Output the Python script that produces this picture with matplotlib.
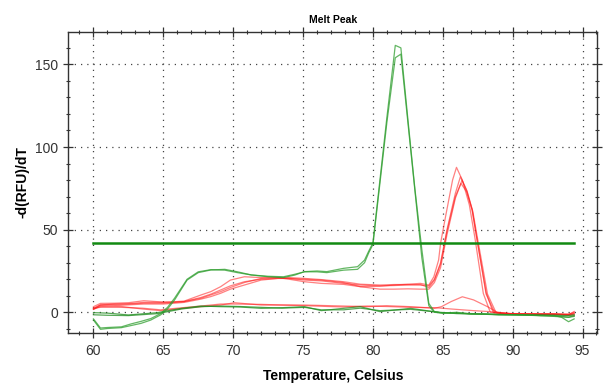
import numpy as np
import matplotlib
matplotlib.use("Agg")
import matplotlib.pyplot as plt
from matplotlib.ticker import MultipleLocator

plt.rcParams['font.family'] = ['Liberation Sans', 'DejaVu Sans']

################################################################################
# Data
################################################################################
# Green, high peak (~81.7 C)
t_green_peak = [60, 60.5, 61, 62, 62.7, 63.4, 64.1, 64.8, 65.3, 65.8, 66.7, 67.5,
                68.4, 69.4, 70.3, 71.3, 72.5, 73.6, 74.4, 75.1, 76, 76.7, 77.9,
                78.9, 79.4, 79.7, 80, 80.5, 81, 81.6, 82, 82.5, 83, 83.5, 84,
                84.4, 85, 86, 87, 88, 89, 90, 91, 92, 93, 93.5, 94, 94.4]
green_peak_1 = [-4.7, -10.3, -9.8, -9.3, -8, -6.7, -4.7, -1.6, 2, 7.4, 19.5, 24,
                25.6, 26, 24.5, 22.6, 21.5, 21, 22.5, 24.6, 25, 24.6, 26.6,
                27.6, 31.6, 37, 42, 80, 118, 161.5, 160, 117, 75, 38, 5.4,
                0.4, -0.5, 0, -1, -1, -1.5, -1.5, -1.5, -2, -2, -3, -5.7, -4]
green_peak_2 = [-4, -9.5, -9.2, -8.8, -7, -5.5, -3.8, -0.8, 3, 8.5, 20, 24.5,
                25.8, 25.5, 24, 22.6, 21.8, 21.5, 23, 24.5, 24.5, 24, 25.5,
                26, 30, 36, 41, 78, 115, 154, 156.2, 115, 74, 33, 4,
                0, -0.5, -0.5, -1, -1.2, -1.5, -1.5, -1.8, -2, -2, -2.5, -3, -2]

# Green, flat
t_green_flat = [60, 61, 62.5, 64.6, 66.3, 67.7, 69.1, 70.5, 72, 73.5, 75.1, 76.3,
                77.9, 79.1, 80.5, 82.7, 84.8, 86, 88, 90, 92, 94, 94.4]
green_flat_1 = [-0.2, -0.5, -1.6, -0.2, 2.4, 3.8, 3.4, 3.2, 2.4, 2.8, 3.4, 1,
                2.4, 3.4, 0.4, 2.4, -0.2, -0.5, -1, -1.5, -1.5, -2, -1.5]
green_flat_2 = [-1.5, -1.8, -2, -0.8, 2, 3.4, 3.8, 3.5, 3, 2.5, 3, 1.5,
                1.5, 2.5, 1, 1.8, 0, -0.8, -1.2, -1.5, -2, -3, -2.5]

# Red, peak at ~86 C: shared baseline part + own peak part
t_red_base = [60, 60.5, 61.5, 62.5, 63.6, 65, 65.8, 66.5, 67.7, 68.4, 69.1, 69.8,
              70.8, 72, 73.2, 74, 75.1, 76.3, 77.9, 79.1, 80.5, 81.5, 82.5, 83.4]
red_base_1 = [3.4, 5.4, 5.5, 5.8, 7, 6.2, 6.4, 6.8, 10.5, 12.5, 15.5, 19.5,
              21.5, 21, 21, 20, 18.5, 17.5, 16.9, 15.5, 15.8, 16.5, 17, 17.5]
red_base_2 = [2, 4.5, 4.8, 5, 5.5, 5.5, 6, 6.5, 9, 11, 13.5, 16,
              18.5, 20, 20.5, 20.5, 19.5, 19, 17.5, 16.5, 16, 16.2, 16.5, 16.8]
red_base_3 = [1.8, 3.5, 4, 4.5, 5, 5, 5.5, 6, 8, 9.5, 11.5, 14,
              16.5, 19.5, 20.5, 20.5, 20, 19.5, 18, 15.5, 14, 14, 14.2, 14]
red_base_4 = [2.5, 4.5, 5, 5.2, 6, 6, 6.2, 6.5, 8.5, 10.5, 12.5, 15,
              18, 20.5, 21, 21, 20.5, 19.8, 18.5, 17, 16.5, 16.8, 16.8, 16.5]

t_red_top_1 = [84.0, 84.36, 84.7, 84.84, 85.2, 85.7, 85.98, 86.4, 86.9, 87.3,
               87.9, 88.4, 89, 90, 91, 92, 93, 94, 94.4]
red_top_1 = [16.5, 21.5, 31.6, 41.7, 58, 80, 87.7, 80, 65, 45,
             11.4, 0, -0.8, -1, -1, -1.2, -1, -1.5, 0.5]
t_red_top_2 = [84.0, 84.4, 84.84, 85.07, 85.3, 85.9, 86.26, 86.7, 87.1, 87.45,
               88.1, 88.7, 89.2, 90, 91, 92, 93, 94, 94.4]
red_top_2 = [15, 19.5, 30, 40, 50, 72, 82, 74, 62, 44,
             11, 0, -0.5, -1, -1.2, -1, -1.2, -1.8, -1]
t_red_top_3 = [84.0, 84.4, 84.84, 85.07, 85.3, 85.9, 86.38, 86.75, 87.15, 87.5,
               88.2, 88.8, 89.2, 90, 91, 92, 93, 94, 94.4]
red_top_3 = [14, 18, 27, 37, 47, 69, 80, 73, 61, 44,
             11, 0, -0.5, -1, -1, -1.3, -1.2, -1.3, -2]
t_red_top_4 = [84.0, 84.4, 84.84, 85.07, 85.3, 85.9, 86.3, 86.7, 87.1, 87.45,
               88.1, 88.6, 89.2, 90, 91, 92, 93, 94, 94.4]
red_top_4 = [16, 20, 29, 39, 49, 70, 78, 73, 62, 44,
             12, 0, -0.8, -1, -1.2, -1.1, -1, -1.2, 0]

# Red, low
t_red_low = [60, 60.5, 62, 63.5, 64.8, 66, 67.7, 69.1, 70.1, 72, 75.1, 77.9,
             79.6, 81, 82.7, 84.4, 84.9, 85.6, 86.4, 87.2, 88.2, 88.9, 90, 92,
             94, 94.4]
red_low_1 = [1.8, 4, 3.5, 2, 1, 2, 3.4, 4.4, 5.8, 4.4, 4.4, 3.8,
             3.4, 4, 3.4, 2.4, 3.4, 6.5, 9.4, 7.5, 3.4, 0, -1, -1,
             -1.5, -0.5]
red_low_2 = [2.5, 3, 3, 2.5, 1.5, 2.5, 3.8, 5, 5, 4.8, 4, 3.2,
             3.8, 3.5, 3, 2.8, 2.5, 2, 1.5, 1, 0.5, 0, -0.8, -1.2,
             -1.2, -1]

# Threshold line
threshold = 41.7
threshold_range = [60, 94.4]

################################################################################
# Plot
################################################################################
fig = plt.figure(figsize=(6.1, 3.88), dpi=100)
ax = fig.add_axes([0.112, 0.141, 0.867, 0.777])

red = '#ff1a1a'
green = '#2f9e2f'

for v in (red_low_1, red_low_2):
  ax.plot(t_red_low, v, color=red, lw=0.9, alpha=0.55)
red_peaks = [(red_base_1, t_red_top_1, red_top_1),
             (red_base_2, t_red_top_2, red_top_2),
             (red_base_3, t_red_top_3, red_top_3),
             (red_base_4, t_red_top_4, red_top_4)]
for base, t_top, top in red_peaks:
  ax.plot(t_red_base + t_top, base + top, color=red, lw=0.9, alpha=0.55)
for v in (green_flat_1, green_flat_2):
  ax.plot(t_green_flat, v, color='#1f8c1f', lw=0.9, alpha=0.75)
for v in (green_peak_1, green_peak_2):
  ax.plot(t_green_peak, v, color=green, lw=0.9, alpha=0.75)

ax.plot(threshold_range, [threshold, threshold], color='#128a12', lw=1.8)

ax.set_xlim(58.2, 96.05)
ax.set_ylim(-12.7, 169.7)

ax.xaxis.set_major_locator(MultipleLocator(5))
ax.xaxis.set_minor_locator(MultipleLocator(1))
ax.yaxis.set_major_locator(MultipleLocator(50))
ax.yaxis.set_minor_locator(MultipleLocator(10))
ax.tick_params(which='both', direction='inout', top=True, right=True,
               colors='#333333', labelsize=10, pad=4)
ax.tick_params(which='major', length=7, width=0.9)
ax.tick_params(which='minor', length=3.5, width=0.8)
for s in ax.spines.values():
  s.set_color('#333333')
  s.set_linewidth(1.0)

ax.grid(True, which='major', linestyle=(0, (1, 4)), color='#444444', lw=0.9)

ax.set_title("Melt Peak", fontsize=7.5, fontweight='bold', pad=6)
ax.set_xlabel("Temperature, Celsius", fontsize=10, fontweight='bold', labelpad=8)
ax.set_ylabel("-d(RFU)/dT", fontsize=10, fontweight='bold', labelpad=4)

fig.savefig("out.png", dpi=100)
